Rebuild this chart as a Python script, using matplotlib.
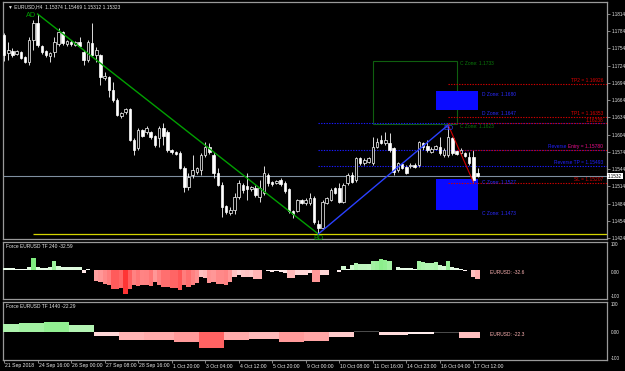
import matplotlib
matplotlib.use('Agg')
import matplotlib.pyplot as plt
from matplotlib.patches import Rectangle

plt.rcParams['font.family'] = ['Liberation Sans', 'DejaVu Sans']

# ---------------- data ----------------
opens = [1.17775, 1.17462, 1.17497, 1.17445, 1.17480, 1.17392, 1.17305, 1.17688, 1.17984, 1.17584,
         1.17497, 1.17410, 1.17480, 1.17618, 1.17827, 1.17618, 1.17653, 1.17601, 1.17653, 1.17480,
         1.17340, 1.17636, 1.17427, 1.17427, 1.17027, 1.17044, 1.16818, 1.16644, 1.16366, 1.16435,
         1.16487, 1.15948, 1.15809, 1.16122, 1.16087, 1.16087, 1.16018, 1.15983, 1.16157, 1.16087,
         1.15774, 1.15739, 1.15722, 1.15461, 1.15130, 1.15339, 1.15391, 1.15426, 1.15687, 1.15826,
         1.15687, 1.15374, 1.15165, 1.14800, 1.14678, 1.14730, 1.14956, 1.15165, 1.15148, 1.15096,
         1.15113, 1.14956, 1.15026, 1.15339, 1.15217, 1.15200, 1.15252, 1.15200, 1.15096, 1.14713,
         1.14713, 1.14904, 1.14852, 1.14852, 1.14939, 1.14488, 1.14417, 1.14852, 1.14904, 1.15113,
         1.15113, 1.14869, 1.15200, 1.15339, 1.15252, 1.15635, 1.15548, 1.15565, 1.15548, 1.15826,
         1.15948, 1.15896, 1.15896, 1.15809, 1.15426, 1.15530, 1.15478, 1.15496, 1.15513, 1.15513,
         1.15896, 1.15844, 1.15739, 1.15791, 1.15826, 1.15687, 1.15687, 1.15983, 1.15757, 1.15722,
         1.15722, 1.15652, 1.15652, 1.15374]
highs = [1.17810, 1.17653, 1.17549, 1.17514, 1.17497, 1.17410, 1.17740, 1.18036, 1.18140, 1.17601,
         1.17514, 1.17480, 1.17740, 1.17897, 1.17845, 1.17688, 1.17688, 1.17671, 1.17740, 1.17514,
         1.17688, 1.17984, 1.17566, 1.17445, 1.17131, 1.17060, 1.16957, 1.16679, 1.16435, 1.16505,
         1.16505, 1.15983, 1.16157, 1.16139, 1.16192, 1.16105, 1.16035, 1.16192, 1.16244, 1.16122,
         1.15791, 1.15757, 1.15757, 1.15496, 1.15374, 1.15687, 1.15478, 1.15722, 1.15913, 1.15896,
         1.15739, 1.15461, 1.15217, 1.14817, 1.14782, 1.15026, 1.15252, 1.15200, 1.15374, 1.15148,
         1.15165, 1.15252, 1.15496, 1.15374, 1.15235, 1.15252, 1.15287, 1.15235, 1.15113, 1.14730,
         1.14922, 1.14922, 1.14939, 1.15026, 1.14974, 1.14557, 1.14904, 1.14956, 1.15113, 1.15130,
         1.15200, 1.15200, 1.15374, 1.15391, 1.15652, 1.15652, 1.15635, 1.15652, 1.16000, 1.15983,
         1.16035, 1.16087, 1.16070, 1.15826, 1.15565, 1.15548, 1.15513, 1.15548, 1.15548, 1.15931,
         1.15913, 1.15948, 1.15826, 1.15861, 1.16000, 1.15809, 1.16209, 1.16000, 1.15774, 1.15809,
         1.15739, 1.15739, 1.15774, 1.15469]
lows = [1.17323, 1.17340, 1.17392, 1.17427, 1.17358, 1.17288, 1.17253, 1.17514, 1.17566, 1.17445,
        1.17392, 1.17305, 1.17392, 1.17584, 1.17601, 1.17584, 1.17584, 1.17584, 1.17566, 1.17253,
        1.17305, 1.17410, 1.17305, 1.16905, 1.16992, 1.16696, 1.16609, 1.16366, 1.16331, 1.16400,
        1.15931, 1.15687, 1.15774, 1.16000, 1.16052, 1.15965, 1.15826, 1.15826, 1.15861, 1.15739,
        1.15704, 1.15687, 1.15443, 1.15043, 1.15078, 1.15287, 1.15356, 1.15339, 1.15652, 1.15704,
        1.15287, 1.15148, 1.14609, 1.14661, 1.14644, 1.14661, 1.14922, 1.15026, 1.14904, 1.15061,
        1.14956, 1.14869, 1.14991, 1.15148, 1.15148, 1.15183, 1.15148, 1.15026, 1.14678, 1.14592,
        1.14696, 1.14835, 1.14817, 1.14817, 1.14488, 1.14312, 1.14400, 1.14835, 1.14887, 1.15009,
        1.14852, 1.14852, 1.15165, 1.15200, 1.15217, 1.15513, 1.15513, 1.15548, 1.15513, 1.15809,
        1.15878, 1.15861, 1.15739, 1.15339, 1.15391, 1.15443, 1.15356, 1.15461, 1.15461, 1.15478,
        1.15774, 1.15739, 1.15722, 1.15774, 1.15687, 1.15652, 1.15652, 1.15687, 1.15687, 1.15687,
        1.15652, 1.15513, 1.15217, 1.15312]
closes = [1.17427, 1.17514, 1.17427, 1.17497, 1.17375, 1.17305, 1.17688, 1.17984, 1.17601, 1.17480,
          1.17427, 1.17462, 1.17653, 1.17827, 1.17636, 1.17671, 1.17618, 1.17653, 1.17584, 1.17340,
          1.17653, 1.17427, 1.17514, 1.17044, 1.17060, 1.16818, 1.16644, 1.16383, 1.16418, 1.16487,
          1.15948, 1.15774, 1.16122, 1.16018, 1.16157, 1.16000, 1.15861, 1.16157, 1.16018, 1.15774,
          1.15739, 1.15704, 1.15461, 1.15130, 1.15304, 1.15426, 1.15461, 1.15687, 1.15826, 1.15739,
          1.15374, 1.15165, 1.14782, 1.14696, 1.14730, 1.14956, 1.15200, 1.15078, 1.15096, 1.15130,
          1.14991, 1.15113, 1.15374, 1.15200, 1.15183, 1.15235, 1.15183, 1.15061, 1.14713, 1.14661,
          1.14904, 1.14852, 1.14904, 1.14939, 1.14522, 1.14417, 1.14869, 1.14939, 1.15078, 1.15026,
          1.14869, 1.15165, 1.15339, 1.15217, 1.15635, 1.15548, 1.15600, 1.15635, 1.15826, 1.15913,
          1.15896, 1.15948, 1.15774, 1.15391, 1.15548, 1.15461, 1.15374, 1.15513, 1.15478, 1.15913,
          1.15826, 1.15774, 1.15791, 1.15844, 1.15722, 1.15774, 1.16000, 1.15722, 1.15704, 1.15774,
          1.15670, 1.15548, 1.15252, 1.15323]

force_h4 = [8, 7, 6, 4, 3, 3, 10, 41, 12, 8, 7, 12, 31, 13, 10, 10, 10, 11, 11, -10,
            3, 0, -40, -43, -49, -54, -68, -68, -63, -84, -66, -52, -57, -51, -52, -57, -43, -52, -60, -60,
            -64, -64, -70, -54, -60, -52, -46, -26, -29, -45, -43, -49, -49, -51, -43, -25, -19, -23, -25, -23,
            -31, -31, 0, -5, -8, -5, -8, -10, -29, -29, -17, -17, -17, -12, -43, -43, -17, -17, 0, 0,
            -7, 15, 4, 16, 25, 21, 21, 20, 30, 32, 37, 35, 30, 0, 10, 8, 7, 8, 4, 30,
            27, 25, 25, 27, 16, 13, 33, 10, 8, 4, -5, 0, -26, -33]

day_start = [0, 4, 10, 16, 22, 28, 34, 41, 47, 53, 59, 66, 72, 78, 84, 90, 97, 103, 109]
force_d1 = [26, 30, 35, 24, -14, -26, -29, -35, -54, -29, -24, -35, -31, -18, 1, -12, -6, -3, -22]

price_ticks = [1.1424, 1.1454, 1.1484, 1.1514, 1.1544, 1.1574, 1.1604, 1.1634,
               1.1664, 1.1694, 1.1724, 1.1754, 1.1784, 1.1814]
time_labels = ["21 Sep 2018", "24 Sep 16:00", "26 Sep 00:00", "27 Sep 08:00", "28 Sep 16:00",
               "1 Oct 20:00", "3 Oct 04:00", "4 Oct 12:00", "5 Oct 20:00", "9 Oct 00:00",
               "10 Oct 08:00", "11 Oct 16:00", "14 Oct 23:00", "16 Oct 04:00", "17 Oct 12:00"]

# pattern points (bar index, price)
pt_A = (8, 1.18140)
pt_B = (75, 1.14312)
pt_D = (106, 1.16209)
pt_C = (112, 1.15217)

green_zone = (88, 108, 1.1623, 1.1733)
blue_zone_top = (103, 113, 1.1647, 1.1680)
blue_zone_bot = (103, 113, 1.1473, 1.1527)

red_levels = [("TP2 = 1.16926", 1.16926), ("TP1 = 1.16353", 1.16353), ("1.16238", 1.16238),
              ("Entry = 1.15780", 1.15780), ("SL = 1.15207", 1.15207)]
blue_levels = [("", 1.16238), ("Reverse Entry = 1.15780", 1.15780), ("Reverse TP = 1.15493", 1.15493)]
current_price = 1.15323
yellow_level = 1.14312

# ---------------- figure ----------------
W, H = 625, 371
fig = plt.figure(figsize=(6.25, 3.71), dpi=100, facecolor='black')
FS = 3.5
FSA = 3.3
FST = 3.7
TXT = '#e8e8e8'


def px_axes(x0, y0, x1, y1):
    ax = fig.add_axes([x0 / W, 1 - y1 / H, (x1 - x0) / W, (y1 - y0) / H])
    ax.set_facecolor('black')
    for s in ax.spines.values():
        s.set_color('#9a9a9a')
        s.set_linewidth(0.9)
    ax.set_xticks([])
    ax.set_yticks([])
    return ax


def ftext(x, y, s, **kw):
    kw.setdefault('fontsize', FS)
    kw.setdefault('color', TXT)
    fig.text(x / W, 1 - y / H, s, **kw)


XL = (-0.26, 143.9)
ax = px_axes(3, 2, 607, 239)
ax.set_xlim(*XL)
ax.set_ylim(1.14225, 1.18349)

# candles
bw = 0.6
for i, (o, h, l, c) in enumerate(zip(opens, highs, lows, closes)):
    ax.vlines(i, l, h, color='white', lw=0.6, zorder=3)
    bottom = min(o, c)
    height = max(abs(c - o), 0.00004)
    fc = 'white' if c < o else 'black'
    ax.add_patch(Rectangle((i - bw / 2, bottom), bw, height, facecolor=fc,
                           edgecolor='white', lw=0.5, zorder=4))

# horizontal lines
ax.axhline(current_price, color='#7f8fa0', lw=0.8, zorder=2)
ax.hlines(yellow_level, 7, XL[1], color='#d4d400', lw=0.9, zorder=2)

# zones
x0, x1, y0, y1 = green_zone
ax.add_patch(Rectangle((x0, y0), x1 - x0, y1 - y0, fill=False, edgecolor='#0f5f0f', lw=0.8, zorder=2))
for v in (y1, y0):
    ax.text(x1 + 0.9, v - 0.0001, "C Zone: %.4f" % v, color='#0a7a0a', fontsize=FS, va='top', ha='left', zorder=6)
for (x0, x1, y0, y1) in (blue_zone_top, blue_zone_bot):
    ax.add_patch(Rectangle((x0, y0), x1 - x0, y1 - y0, facecolor='#0a0aff', edgecolor='none', zorder=2))
x0, x1, y0, y1 = blue_zone_top
for v in (y1, y0):
    ax.text(x1 + 1, v - 0.0001, "D Zone: %.4f" % v, color='#2a2aff', fontsize=FS, va='top', ha='left', zorder=6)
x0, x1, y0, y1 = blue_zone_bot
for v in (y1, y0):
    ax.text(x1 + 1, v - 0.0001, "C Zone: %.4f" % v, color='#2a2aff', fontsize=FS, va='top', ha='left', zorder=6)

# level lines
for lab, v in blue_levels:
    ax.hlines(v, pt_B[0], XL[1], color='#1a1aff', lw=0.8, linestyles=(0, (1.2, 1.2)), zorder=3)
    if lab:
        ax.text(143.0, v + 0.00012, lab, color='#2020ff', fontsize=FS, ha='right', va='bottom', zorder=6)
for lab, v in red_levels:
    ax.hlines(v, pt_D[0], XL[1], color='#d00000', lw=0.8, linestyles=(0, (1.2, 1.2)), zorder=3)
    ax.text(143.0, v + 0.00012, lab, color='#e00000', fontsize=FS, ha='right', va='bottom', zorder=7)

# pattern lines
ax.plot([pt_A[0], pt_B[0]], [pt_A[1], pt_B[1]], color='#00a000', lw=1.0, zorder=5)
ax.plot([pt_B[0], pt_D[0]], [pt_B[1], pt_D[1]], color='#2a40ff', lw=1.0, zorder=5)
ax.plot([pt_D[0], pt_C[0]], [pt_D[1], pt_C[1]], color='#d00000', lw=0.8, zorder=5)
ax.text(pt_A[0] - 1.5, pt_A[1] - 0.0003, "AD", color='#00a000', fontsize=5.2, ha='center', va='center', zorder=6)
ax.text(pt_B[0], pt_B[1] - 0.0008, "BD", color='#00a000', fontsize=5.2, ha='center', va='center', zorder=6)
ax.text(pt_D[0], pt_D[1] - 0.0006, "BD", color='#2a40ff', fontsize=5.2, ha='center', va='center', zorder=6)

# price axis
ax.yaxis.tick_right()
ax.set_yticks(price_ticks)
ax.set_yticklabels(["%.4f" % t for t in price_ticks])
ax.tick_params(axis='y', colors='#9a9a9a', labelcolor=TXT, labelsize=FSA, length=2, width=0.6, pad=1.2)
ftext(608, 176, "1.1532", color='black', fontsize=FSA, va='center', ha='left',
      bbox=dict(facecolor='white', edgecolor='none', pad=0.6))
ftext(8, 6.5, "\u25bc EURUSD,H4  1.15374 1.15469 1.15312 1.15323", va='center', ha='left')


def force_color(v, pos_full, neg_full):
    if v >= 0:
        t = min(v / pos_full, 1.0)
        return (1 - 0.55 * t, 1 - 0.08 * t, 1 - 0.55 * t)
    t = min(-v / neg_full, 1.0)
    return (1.0, 1 - 0.85 * t, 1 - 0.85 * t)


# sub window 1 (H4 force)
ax1 = px_axes(3, 242, 607, 299)
ax1.set_xlim(*XL)
ax1.set_ylim(-101.8, 98.2)
for i, v in enumerate(force_h4):
    hv = v if abs(v) >= 1.5 else 1.5
    ax1.add_patch(Rectangle((i - 0.5, 0), 1.0, hv, facecolor=force_color(v, 45, 90),
                            edgecolor='none', zorder=3))
ftext(6, 246, "Force EURUSD TF 240 -32.59", va='center', ha='left')
ftext(490, 273, "EURUSD: -32.6", va='center', ha='left', color='#ffb4b4')
ftext(611, 245, "100", va='center', ha='left', fontsize=FSA)
ftext(611, 273, "0.00", va='center', ha='left', fontsize=FSA)
ftext(611, 296.5, "-100", va='center', ha='left', fontsize=FSA)

# sub window 2 (D1 force)
ax2 = px_axes(3, 302, 607, 360)
ax2.set_xlim(*XL)
ax2.set_ylim(-96.6, 103.4)
ends = day_start[1:] + [len(opens)]
for s, e, v in zip(day_start, ends, force_d1):
    if abs(v) < 4:
        col, hv = '#4a4a4a', (v if abs(v) >= 2 else 2)
    else:
        col, hv = force_color(v, 45, 75), v
    ax2.add_patch(Rectangle((s - 0.5, 0), e - s, hv, facecolor=col, edgecolor='none', zorder=3))
ftext(6, 306, "Force EURUSD TF 1440 -22.29", va='center', ha='left')
ftext(490, 335, "EURUSD: -22.3", va='center', ha='left', color='#ffb4b4')
ftext(611, 305, "100", va='center', ha='left', fontsize=FSA)
ftext(611, 333, "0.00", va='center', ha='left', fontsize=FSA)
ftext(611, 358, "-100", va='center', ha='left', fontsize=FSA)

# time axis
ax2.set_xticks([8 * k for k in range(len(time_labels))])
ax2.set_xticklabels([])
ax2.tick_params(axis='x', colors='#9a9a9a', length=2.5, width=0.6, direction='out')
for k, lab in enumerate(time_labels):
    xpix = 4.1 + 4.19 * 8 * k
    ftext(xpix + 1.0, 366, lab, va='center', ha='left', fontsize=FST)

fig.savefig('out.png', dpi=100, facecolor='black')
